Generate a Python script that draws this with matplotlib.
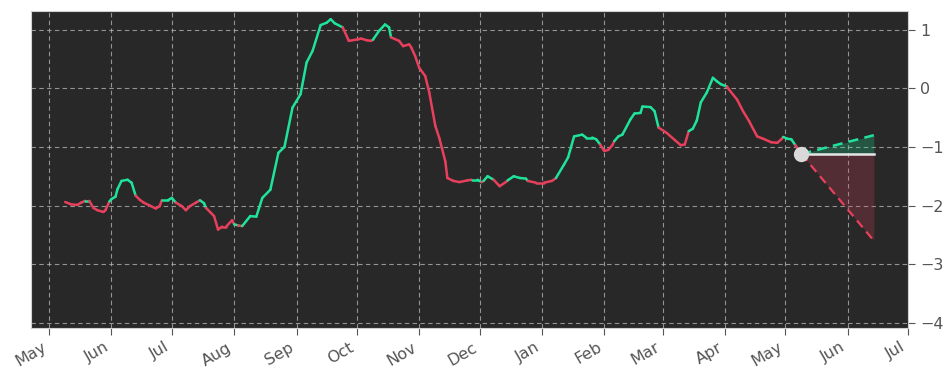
import datetime as dt
import numpy as np
import matplotlib
matplotlib.use("Agg")
import matplotlib.pyplot as plt
import matplotlib.dates as mdates
from matplotlib.collections import LineCollection

# ---- data ----
start_date = "2023-05-01"
day_offsets = [8, 11, 14, 16, 18, 20, 22, 24, 27, 28, 30, 31, 33, 34, 36, 39, 41, 43, 45, 47,
               50, 53, 55, 56, 59, 61, 63, 66, 68, 70, 73, 75, 77, 78, 82, 84, 86, 88, 91, 92,
               94, 96, 100, 103, 106, 110, 114, 117, 121, 125, 128, 131, 135, 138, 140, 142, 146, 149, 154, 155,
               158, 160, 161, 164, 167, 169, 170, 174, 176, 179, 180, 182, 184, 187, 189, 192, 194, 197, 198, 201,
               204, 208, 210, 213, 215, 216, 218, 221, 224, 227, 228, 231, 234, 237, 238, 242, 246, 250, 252, 256,
               258, 261, 265, 267, 270, 272, 274, 276, 278, 280, 281, 283, 285, 289, 291, 294, 295, 299, 301, 303,
               307, 311, 314, 316, 318, 320, 322, 324, 327, 330, 332, 334, 337, 338, 342, 345, 348, 352, 355, 359,
               362, 364, 365, 367, 369, 371, 374]
values = [-1.94, -1.98, -1.99, -1.95, -1.92, -1.92, -2.04, -2.08, -2.11, -2.08, -1.93, -1.89, -1.85, -1.72, -1.58, -1.56, -1.61, -1.83, -1.90, -1.95,
          -2.00, -2.05, -2.01, -1.91, -1.91, -1.87, -1.95, -2.01, -2.08, -2.01, -1.95, -1.91, -1.96, -2.04, -2.18, -2.41, -2.36, -2.36, -2.25, -2.32,
          -2.34, -2.35, -2.18, -2.19, -1.87, -1.73, -1.10, -1.00, -0.33, -0.10, 0.44, 0.64, 1.08, 1.12, 1.18, 1.11, 1.04, 0.81, 0.84, 0.85,
          0.82, 0.81, 0.83, 0.98, 1.09, 1.04, 0.87, 0.81, 0.72, 0.75, 0.70, 0.55, 0.35, 0.21, -0.07, -0.64, -0.85, -1.25, -1.53, -1.58,
          -1.60, -1.57, -1.56, -1.56, -1.60, -1.58, -1.50, -1.56, -1.67, -1.60, -1.57, -1.50, -1.53, -1.54, -1.58, -1.61, -1.61, -1.58, -1.53, -1.30,
          -1.18, -0.82, -0.79, -0.84, -0.84, -0.87, -0.96, -1.07, -1.05, -0.97, -0.90, -0.82, -0.79, -0.53, -0.43, -0.42, -0.31, -0.32, -0.39, -0.67,
          -0.76, -0.88, -0.97, -0.96, -0.73, -0.69, -0.55, -0.24, -0.07, 0.18, 0.12, 0.07, 0.03, -0.02, -0.19, -0.39, -0.56, -0.82, -0.86, -0.92,
          -0.93, -0.87, -0.83, -0.86, -0.87, -0.97, -1.12]
# trend of the segment starting at each point (1 = up/green, 0 = down/red)
trend = [0, 0, 0, 0, 1, 0, 0, 0, 0, 0, 1, 1, 1, 1, 1, 1, 1, 0, 0, 0,
         0, 0, 0, 1, 1, 1, 0, 0, 0, 0, 0, 1, 1, 0, 0, 0, 0, 0, 0, 1,
         0, 1, 1, 1, 1, 1, 1, 1, 1, 1, 1, 1, 1, 1, 1, 1, 0, 0, 0, 0,
         0, 0, 1, 1, 1, 1, 0, 0, 0, 0, 0, 0, 0, 0, 0, 0, 0, 0, 0, 0,
         0, 0, 1, 1, 0, 1, 1, 0, 0, 0, 1, 1, 1, 1, 0, 0, 0, 0, 1, 1,
         1, 1, 1, 1, 1, 1, 0, 0, 0, 0, 1, 1, 1, 1, 1, 1, 1, 1, 1, 0,
         0, 0, 0, 0, 1, 1, 1, 1, 1, 1, 1, 1, 0, 0, 0, 0, 0, 0, 0, 0,
         0, 0, 1, 1, 1, 0, 0]

forecast_end_offset = 410
forecast_upper = -0.80
forecast_lower = -2.60

x_min_date = "2023-04-22"
x_max_date = "2024-07-01"
y_limits = (-4.09, 1.32)
y_ticks = [-4, -3, -2, -1, 0, 1]

# ---- colours ----
GREEN = "#20e39b"
RED = "#e8405c"
BG = "#282828"

base = dt.datetime.strptime(start_date, "%Y-%m-%d")
dates = [base + dt.timedelta(days=d) for d in day_offsets]
xnum = mdates.date2num(dates)
vals = np.array(values)

fig = plt.figure(figsize=(9.52, 3.81), dpi=100)
ax = fig.add_axes([31 / 952, 53 / 381, 877 / 952, 317 / 381])
ax.set_facecolor(BG)

pts = np.column_stack([xnum, vals])
segs = [pts[i:i + 2] for i in range(len(pts) - 1)]
cols = [GREEN if trend[i] else RED for i in range(len(pts) - 1)]
lc = LineCollection(segs, colors=cols, linewidths=1.8, capstyle="round", joinstyle="round", zorder=3)
ax.add_collection(lc)

# forecast cone
last_x = xnum[-1]
last_v = vals[-1]
end_x = mdates.date2num(base + dt.timedelta(days=forecast_end_offset))
fx = np.array([last_x, end_x])
ax.fill_between(fx, [last_v, last_v], [last_v, forecast_upper], color=GREEN, alpha=0.25, lw=0, zorder=2)
ax.fill_between(fx, [last_v, last_v], [last_v, forecast_lower], color=RED, alpha=0.22, lw=0, zorder=2)
ax.plot(fx, [last_v, forecast_upper], color=GREEN, lw=1.8, ls=(0, (4, 2.5)), zorder=3)
ax.plot(fx, [last_v, forecast_lower], color=RED, lw=1.6, ls=(0, (4, 2.5)), zorder=3)
ax.plot(fx, [last_v, last_v], color="#e6e6e6", lw=1.8, zorder=3)
ax.plot([last_x], [last_v], "o", color="#d9d9d9", markersize=10, zorder=4)

ax.set_xlim(mdates.date2num(dt.datetime.strptime(x_min_date, "%Y-%m-%d")),
            mdates.date2num(dt.datetime.strptime(x_max_date, "%Y-%m-%d")))
ax.set_ylim(*y_limits)
ax.set_yticks(y_ticks)

ax.xaxis.set_major_locator(mdates.MonthLocator())
ax.xaxis.set_major_formatter(mdates.DateFormatter("%b"))
ax.yaxis.tick_right()

ax.grid(True, color="#b0b0b0", ls=(0, (4, 3)), lw=0.8, alpha=0.8)
ax.tick_params(axis="both", colors="#555555", labelcolor="#555555", labelsize=11.5, length=5, width=0.8)
for lbl in ax.get_xticklabels():
    lbl.set_rotation(30)
    lbl.set_ha("right")
for s in ax.spines.values():
    s.set_color("#d0d0d0")
    s.set_linewidth(0.8)

fig.savefig("out.png", dpi=100, facecolor="white")
